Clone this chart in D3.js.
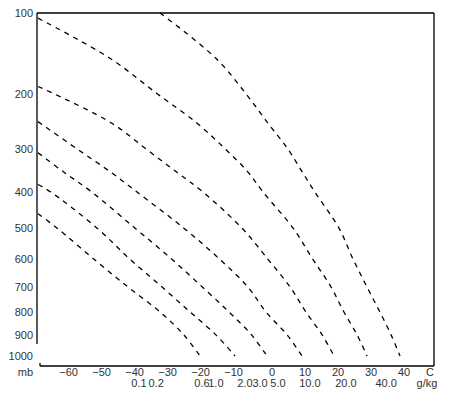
<!DOCTYPE html>
<html><head><meta charset="utf-8">
<script src="https://cdn.jsdelivr.net/npm/d3@7"></script>
<style>body{margin:0;background:#fff}svg{display:block}text{font-family:"Liberation Sans",Arial,sans-serif;fill:#333}</style>
</head><body>
<script>
// ---- data (pressure mb, temperature °C) ----
const pressureTicks = [100,200,300,400,500,600,700,800,900,1000];
const tempTicks = [-60,-50,-40,-30,-20,-10,0,10,20,30,40];
const mixingLabels = ["0.1","0.2","0.6","1.0","2.0","3.0","5.0","10.0","20.0","40.0"];
const mixingLabelTemps = [-39.7,-34.5,-20.6,-16.4,-7.6,-3.0,2.4,12.1,23.0,35.2];
const line1 = [[100,-33.3],[150,-16.4],[200,-7.3],[250,-0.6],[300,5.4],[350,9.7],[400,13.6],[500,20.9],[600,25.2],[700,29.4],[800,33.3],[900,36.7],[1000,39.4]];
const line2 = [[105,-70.3],[150,-48.5],[200,-34.2],[250,-22.1],[300,-13.6],[350,-6.8],[400,-2.1],[500,7.0],[600,13.0],[700,18.5],[800,22.4],[900,26.4],[1000,29.4]];
const line3 = [[189,-70.3],[200,-65.5],[250,-47.9],[300,-37.6],[350,-28.5],[400,-20.3],[500,-8.5],[600,-0.6],[700,6.1],[800,10.9],[900,15.8],[1000,19.4]];
const line4 = [[247,-70.3],[300,-58.5],[350,-48.5],[400,-40.3],[500,-26.1],[600,-15.2],[700,-6.7],[800,-1.2],[900,5.2],[1000,9.7]];
const line5 = [[308,-70.3],[350,-62.7],[400,-54.0],[500,-40.9],[600,-29.7],[700,-20.5],[800,-12.4],[900,-5.6],[1000,-0.9]];
const line6 = [[381,-70.3],[400,-66.4],[500,-52.4],[600,-42.4],[700,-32.7],[800,-24.2],[900,-16.4],[1000,-10.6]];
const line7 = [[458,-70.3],[500,-64.5],[600,-53.3],[700,-43.0],[800,-33.3],[900,-26.1],[1000,-21.2]];
const lines = [line1,line2,line3,line4,line5,line6,line7];

const W = 450, H = 396;
const svg = d3.select("body").append("svg").attr("width",W).attr("height",H);
const x = d3.scaleLinear().domain([-60,40]).range([72,402]);
const y = d3.scalePow().exponent(0.286).domain([100,1000]).range([13,356]);

// frame
const fr = svg.append("g").attr("stroke","#000").attr("stroke-width",1.3).attr("fill","none");
fr.append("line").attr("x1",37).attr("x2",434).attr("y1",13).attr("y2",13);
fr.append("line").attr("x1",37).attr("x2",37).attr("y1",13).attr("y2",344);
fr.append("line").attr("x1",434).attr("x2",434).attr("y1",13).attr("y2",366);
fr.append("line").attr("x1",40).attr("x2",434).attr("y1",366).attr("y2",366);
fr.append("line").attr("x1",40).attr("x2",40).attr("y1",363).attr("y2",366);

// mixing ratio lines
const gen = d3.line().x(d=>x(d[1])).y(d=>y(d[0])).curve(d3.curveCatmullRom);
svg.append("g").selectAll("path").data(lines).join("path")
  .attr("d",gen).attr("fill","none").attr("stroke","#000")
  .attr("stroke-width",1.3).attr("stroke-dasharray","5,5");

// y labels
svg.append("g").selectAll("text").data(pressureTicks).join("text")
  .attr("x",33).attr("y",d=>y(d)).attr("dy","0.35em").attr("text-anchor","end")
  .attr("font-size",11).text(d=>d);
svg.append("text").attr("x",33).attr("y",372).attr("dy","0.35em").attr("text-anchor","end")
  .attr("font-size",11).text("mb");

// x labels
svg.append("g").selectAll("text").data(tempTicks).join("text")
  .attr("x",d=>d<0?x(d)+6:x(d)+2).attr("y",372).attr("dy","0.35em")
  .attr("text-anchor",d=>d<0?"end":"middle").attr("font-size",11)
  .text(d=>d<0?"\u2212"+Math.abs(d):d);
svg.append("text").attr("x",430).attr("y",372).attr("dy","0.35em").attr("text-anchor","middle")
  .attr("font-size",11).text("C");
svg.append("g").selectAll("text").data(mixingLabels).join("text")
  .attr("x",(d,i)=>x(mixingLabelTemps[i])).attr("y",383).attr("dy","0.35em")
  .attr("text-anchor","middle").attr("font-size",11).text(d=>d);
svg.append("text").attr("x",427).attr("y",383).attr("dy","0.35em").attr("text-anchor","middle")
  .attr("font-size",11).text("g/kg");
</script>
</body></html>
